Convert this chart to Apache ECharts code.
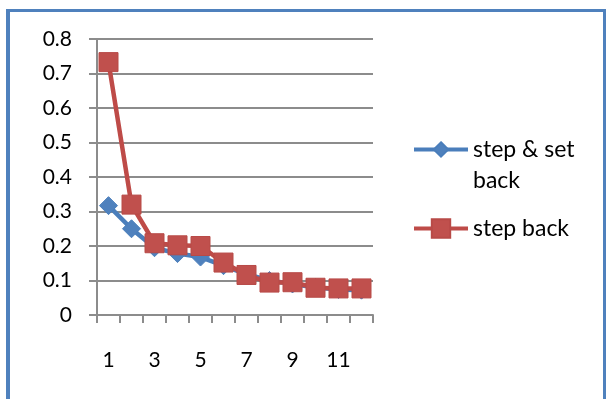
<!DOCTYPE html>
<html>
<head>
<meta charset="utf-8">
<script src="https://cdn.jsdelivr.net/npm/echarts@6/dist/echarts.min.js"></script>
<style>
html,body{margin:0;padding:0;background:#fff;}
#chart{position:absolute;left:0;top:0;width:606px;height:399px;}
#frame{position:absolute;left:6px;top:9px;width:593px;height:500px;border-left:4px solid #4f81bd;border-top:3px solid #4f81bd;border-right:3px solid #4f81bd;pointer-events:none;}
</style>
</head>
<body>
<div id="chart"></div>
<div id="frame"></div>
<script>
var categories = ['1','2','3','4','5','6','7','8','9','10','11','12'];
var stepSetBack = [0.317, 0.25, 0.195, 0.178, 0.168, 0.143, 0.118, 0.10, 0.09, 0.08, 0.074, 0.072];
var stepBack = [0.733, 0.32, 0.208, 0.202, 0.20, 0.152, 0.116, 0.094, 0.095, 0.079, 0.077, 0.077];
var seriesNames = ['step & set back', 'step back'];

var FONT = 'Lato';
var axisGray = '#8c8c8c';
var chart = echarts.init(document.getElementById('chart'));
chart.setOption({
  animation: false,
  textStyle: {fontFamily: FONT},
  grid: {left: 97, right: 233, top: 39, bottom: 84},
  legend: [{
    data: [seriesNames[0]],
    left: 412, top: 103,
    padding: 0,
    itemWidth: 54, itemHeight: 18,
    lineStyle: {width: 4},
    formatter: function (name) { return '\n' + name.replace('set ', 'set\n'); },
    textStyle: {fontFamily: FONT, fontSize: 23, color: '#000', lineHeight: 31}
  },{
    data: [seriesNames[1]],
    left: 412, top: 217,
    padding: 0,
    itemWidth: 54, itemHeight: 23,
    lineStyle: {width: 4},
    textStyle: {fontFamily: FONT, fontSize: 23, color: '#000'}
  }],
  xAxis: {
    type: 'category',
    data: categories,
    boundaryGap: true,
    axisLine: {lineStyle: {color: axisGray, width: 2}},
    axisTick: {show: true, interval: 0, length: 8, lineStyle: {color: axisGray, width: 2}},
    axisLabel: {interval: 1, margin: 35, fontSize: 21, color: '#000', fontFamily: FONT},
    splitLine: {show: false}
  },
  yAxis: {
    type: 'value',
    min: 0, max: 0.8, interval: 0.1,
    axisLine: {show: true, lineStyle: {color: axisGray, width: 2}},
    axisTick: {show: true, length: 8, lineStyle: {color: axisGray, width: 2}},
    axisLabel: {margin: 25, fontSize: 21, color: '#000', fontFamily: FONT},
    splitLine: {lineStyle: {color: axisGray, width: 2}}
  },
  series: [{
    name: seriesNames[0],
    type: 'line',
    data: stepSetBack,
    symbol: 'diamond',
    symbolSize: 18,
    showAllSymbol: true,
    lineStyle: {color: '#4a7ebb', width: 4.5},
    itemStyle: {color: '#4f81bd', borderColor: '#4a7ebb', borderWidth: 1}
  },{
    name: seriesNames[1],
    type: 'line',
    data: stepBack,
    symbol: 'rect',
    symbolSize: 19,
    showAllSymbol: true,
    lineStyle: {color: '#be4b48', width: 4.5},
    itemStyle: {color: '#c0504d', borderColor: '#b84a47', borderWidth: 1}
  }]
});
</script>
</body>
</html>
